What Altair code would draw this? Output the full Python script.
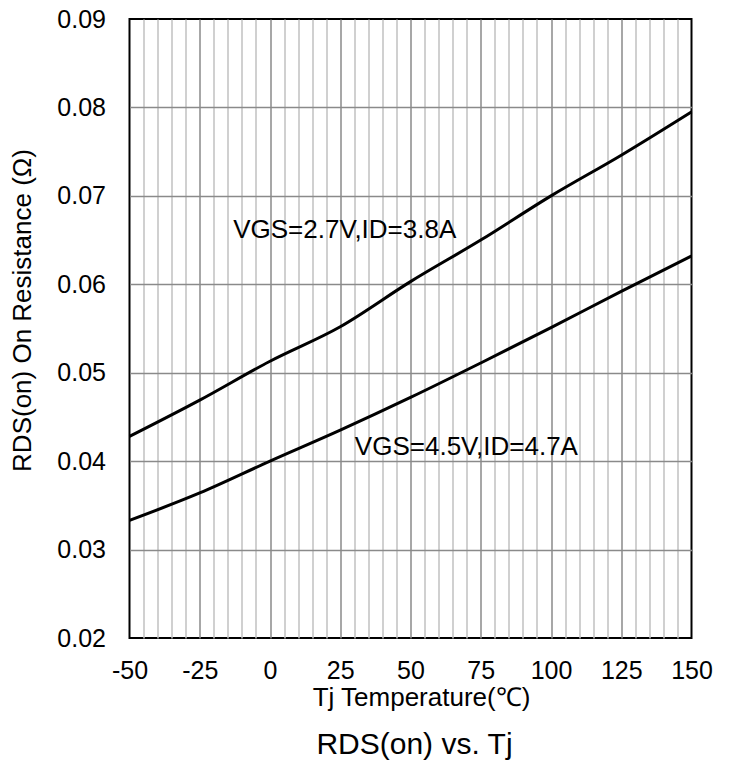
import altair as alt
import pandas as pd

temps = [-50, -25, 0, 25, 50, 75, 100, 125, 150]
rds_27v = [0.0428, 0.0469, 0.0513, 0.0552, 0.0603, 0.0650, 0.0700, 0.0746, 0.0795]
rds_45v = [0.0333, 0.0364, 0.0400, 0.0435, 0.0472, 0.0511, 0.0551, 0.0592, 0.0632]
series_names = ["VGS=2.7V,ID=3.8A", "VGS=4.5V,ID=4.7A"]

label_text = ["VGS=2.7V,ID=3.8A", "VGS=4.5V,ID=4.7A"]
label_x = [-13.1, 30.2]
label_y = [0.0661, 0.04165]

x_ticks = [-50, -45, -40, -35, -30, -25, -20, -15, -10, -5, 0, 5, 10, 15, 20, 25,
           30, 35, 40, 45, 50, 55, 60, 65, 70, 75, 80, 85, 90, 95, 100, 105, 110,
           115, 120, 125, 130, 135, 140, 145, 150]
y_ticks = [0.02, 0.03, 0.04, 0.05, 0.06, 0.07, 0.08, 0.09]

rows = []
for name, vals in zip(series_names, [rds_27v, rds_45v]):
    for t, v in zip(temps, vals):
        rows.append({"series": name, "Tj": t, "RDS": v})
df = pd.DataFrame(rows)
labels = pd.DataFrame({"text": label_text, "Tj": label_x, "RDS": label_y})

FONT = "Liberation Sans"

x_scale = alt.Scale(domain=[-50, 150], nice=False, zero=False)
y_scale = alt.Scale(domain=[0.02, 0.09], nice=False, zero=False)

x_axis = alt.Axis(
    values=x_ticks,
    labelExpr="datum.value % 25 === 0 ? '' + datum.value : ''",
    labelOverlap=False, labelFlush=False,
    title="Tj Temperature(℃)",
    titleX=291.5, titleY=59, titleBaseline="middle", titleAnchor="middle",
    titleFontSize=26, titleFontWeight="normal", titleColor="black", titleFont=FONT,
    labelFontSize=25, labelColor="black", labelPadding=20, labelFont=FONT,
    ticks=False, tickSize=0, domain=False,
    gridColor={"condition": [
        {"test": "datum.value < -49 || datum.value > 149", "value": "transparent"},
        {"test": "datum.value % 25 === 0", "value": "#8a8a8a"}],
        "value": "#c0c0c0"},
    gridWidth=1.5, gridOpacity=1,
)
y_axis = alt.Axis(
    values=y_ticks, labelExpr="format(datum.value, '.2f')",
    labelOverlap=False, labelFlush=False,
    title="RDS(on) On Resistance (Ω)",
    titleX=-107.5, titleY=291, titleBaseline="middle", titleAnchor="middle", titleAngle=270,
    titleFontSize=26, titleFontWeight="normal", titleColor="black", titleFont=FONT,
    labelFontSize=25, labelColor="black", labelPadding=24, labelFont=FONT,
    ticks=False, tickSize=0, domain=False,
    gridColor={"condition": [
        {"test": "datum.value < 0.0205 || datum.value > 0.0895", "value": "transparent"}],
        "value": "#8a8a8a"},
    gridWidth=1.5, gridOpacity=1,
)

lines = alt.Chart(df).mark_line(color="black", strokeWidth=3, interpolate="monotone").encode(
    x=alt.X("Tj:Q", scale=x_scale, axis=x_axis),
    y=alt.Y("RDS:Q", scale=y_scale, axis=y_axis),
    detail="series:N",
)

texts = alt.Chart(labels).mark_text(
    align="left", baseline="middle", font=FONT, fontSize=26, color="black"
).encode(
    x=alt.X("Tj:Q", scale=x_scale, axis=x_axis),
    y=alt.Y("RDS:Q", scale=y_scale, axis=y_axis),
    text="text:N",
)

chart = alt.layer(lines, texts).properties(
    width=562, height=619,
    autosize=alt.AutoSizeParams(type="none"),
    padding={"left": 129.5, "top": 19, "right": 40.5, "bottom": 122},
    title=alt.TitleParams(
        "RDS(on) vs. Tj", orient="bottom", anchor="middle", fontSize=30,
        font=FONT, fontWeight="normal", color="black", offset=20, dx=4,
    ),
).configure(
    font=FONT, background="white",
).configure_view(
    stroke="black", strokeWidth=2,
)

chart.save("out.html", embed_options={"renderer": "svg", "actions": False})
